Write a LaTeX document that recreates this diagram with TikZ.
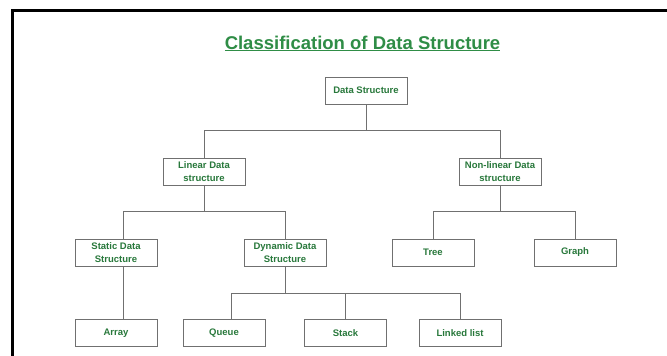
\documentclass[tikz,border=0pt]{standalone}
\usepackage{fontspec}
\setmainfont{Liberation Sans}
\usepackage{tikz}
\definecolor{gfggreen}{HTML}{2F8D46}
\definecolor{boxgray}{HTML}{707070}

\tikzset{
  dsbox/.style={draw=boxgray, line width=1pt, minimum width=82pt,
                minimum height=27pt, inner sep=1pt, align=center,
                font=\fontsize{9.5}{12.5}\selectfont\bfseries, text=gfggreen!85!black},
  link/.style={draw=boxgray, line width=1pt}
}

\begin{document}
\begin{tikzpicture}[x=1pt, y=-1pt]

    % ── Canvas and frame ─────────────────────────────────────────────────────
    \useasboundingbox (0,0) rectangle (667,356);
    \fill[white] (0,0) rectangle (667,356);
    \draw[black, line width=3pt] (12.5,356) -- (12.5,10.5) -- (667,10.5);

    % ── Title ────────────────────────────────────────────────────────────────
    \node[anchor=base, font=\fontsize{18.5}{22}\selectfont\bfseries, text=gfggreen]
        (title) at (362.5,49) {\underline{Classification of Data Structure}};

    % ── Root ─────────────────────────────────────────────────────────────────
    \node[dsbox] (ds) at (366,90.5) {Data Structure};

    % ── Level 1 ──────────────────────────────────────────────────────────────
    \node[dsbox] (lin)    at (204,171.5) {Linear Data\\structure};
    \node[dsbox] (nonlin) at (500,171.5) {Non-linear Data\\structure};

    % ── Level 2 ──────────────────────────────────────────────────────────────
    \node[dsbox] (static)  at (116,252.5) {Static Data\\Structure};
    \node[dsbox] (dynamic) at (285,252.5) {Dynamic Data\\Structure};
    \node[dsbox] (tree)    at (433,252.5) {Tree};
    \node[dsbox] (graph)   at (575,252.5) {Graph};

    % ── Level 3 ──────────────────────────────────────────────────────────────
    \node[dsbox] (array) at (116,333)   {Array};
    \node[dsbox] (queue) at (224,333)   {Queue};
    \node[dsbox] (stack) at (345.5,333) {Stack};
    \node[dsbox] (llist) at (460,333)   {Linked list};

    % ── Connectors ───────────────────────────────────────────────────────────
    \draw[link] (ds.south) -- ++(0,26) coordinate (dsbus) -| (lin.north);
    \draw[link] (dsbus) -| (nonlin.north);

    \draw[link] (lin.south) -- ++(0,26) coordinate (linbus) -| ([xshift=7pt]static.north);
    \draw[link] (linbus) -| (dynamic.north);

    \draw[link] (nonlin.south) -- ++(0,26) coordinate (nlbus) -| (tree.north);
    \draw[link] (nlbus) -| (graph.north);

    \draw[link] ([xshift=7pt]static.south) -- ([xshift=7pt]array.north);

    \draw[link] (dynamic.south) -- ++(0,27) coordinate (dynbus) -| ([xshift=7pt]queue.north);
    \draw[link] (dynbus) -| (stack.north);
    \draw[link] (dynbus) -| (llist.north);

\end{tikzpicture}
\end{document}
